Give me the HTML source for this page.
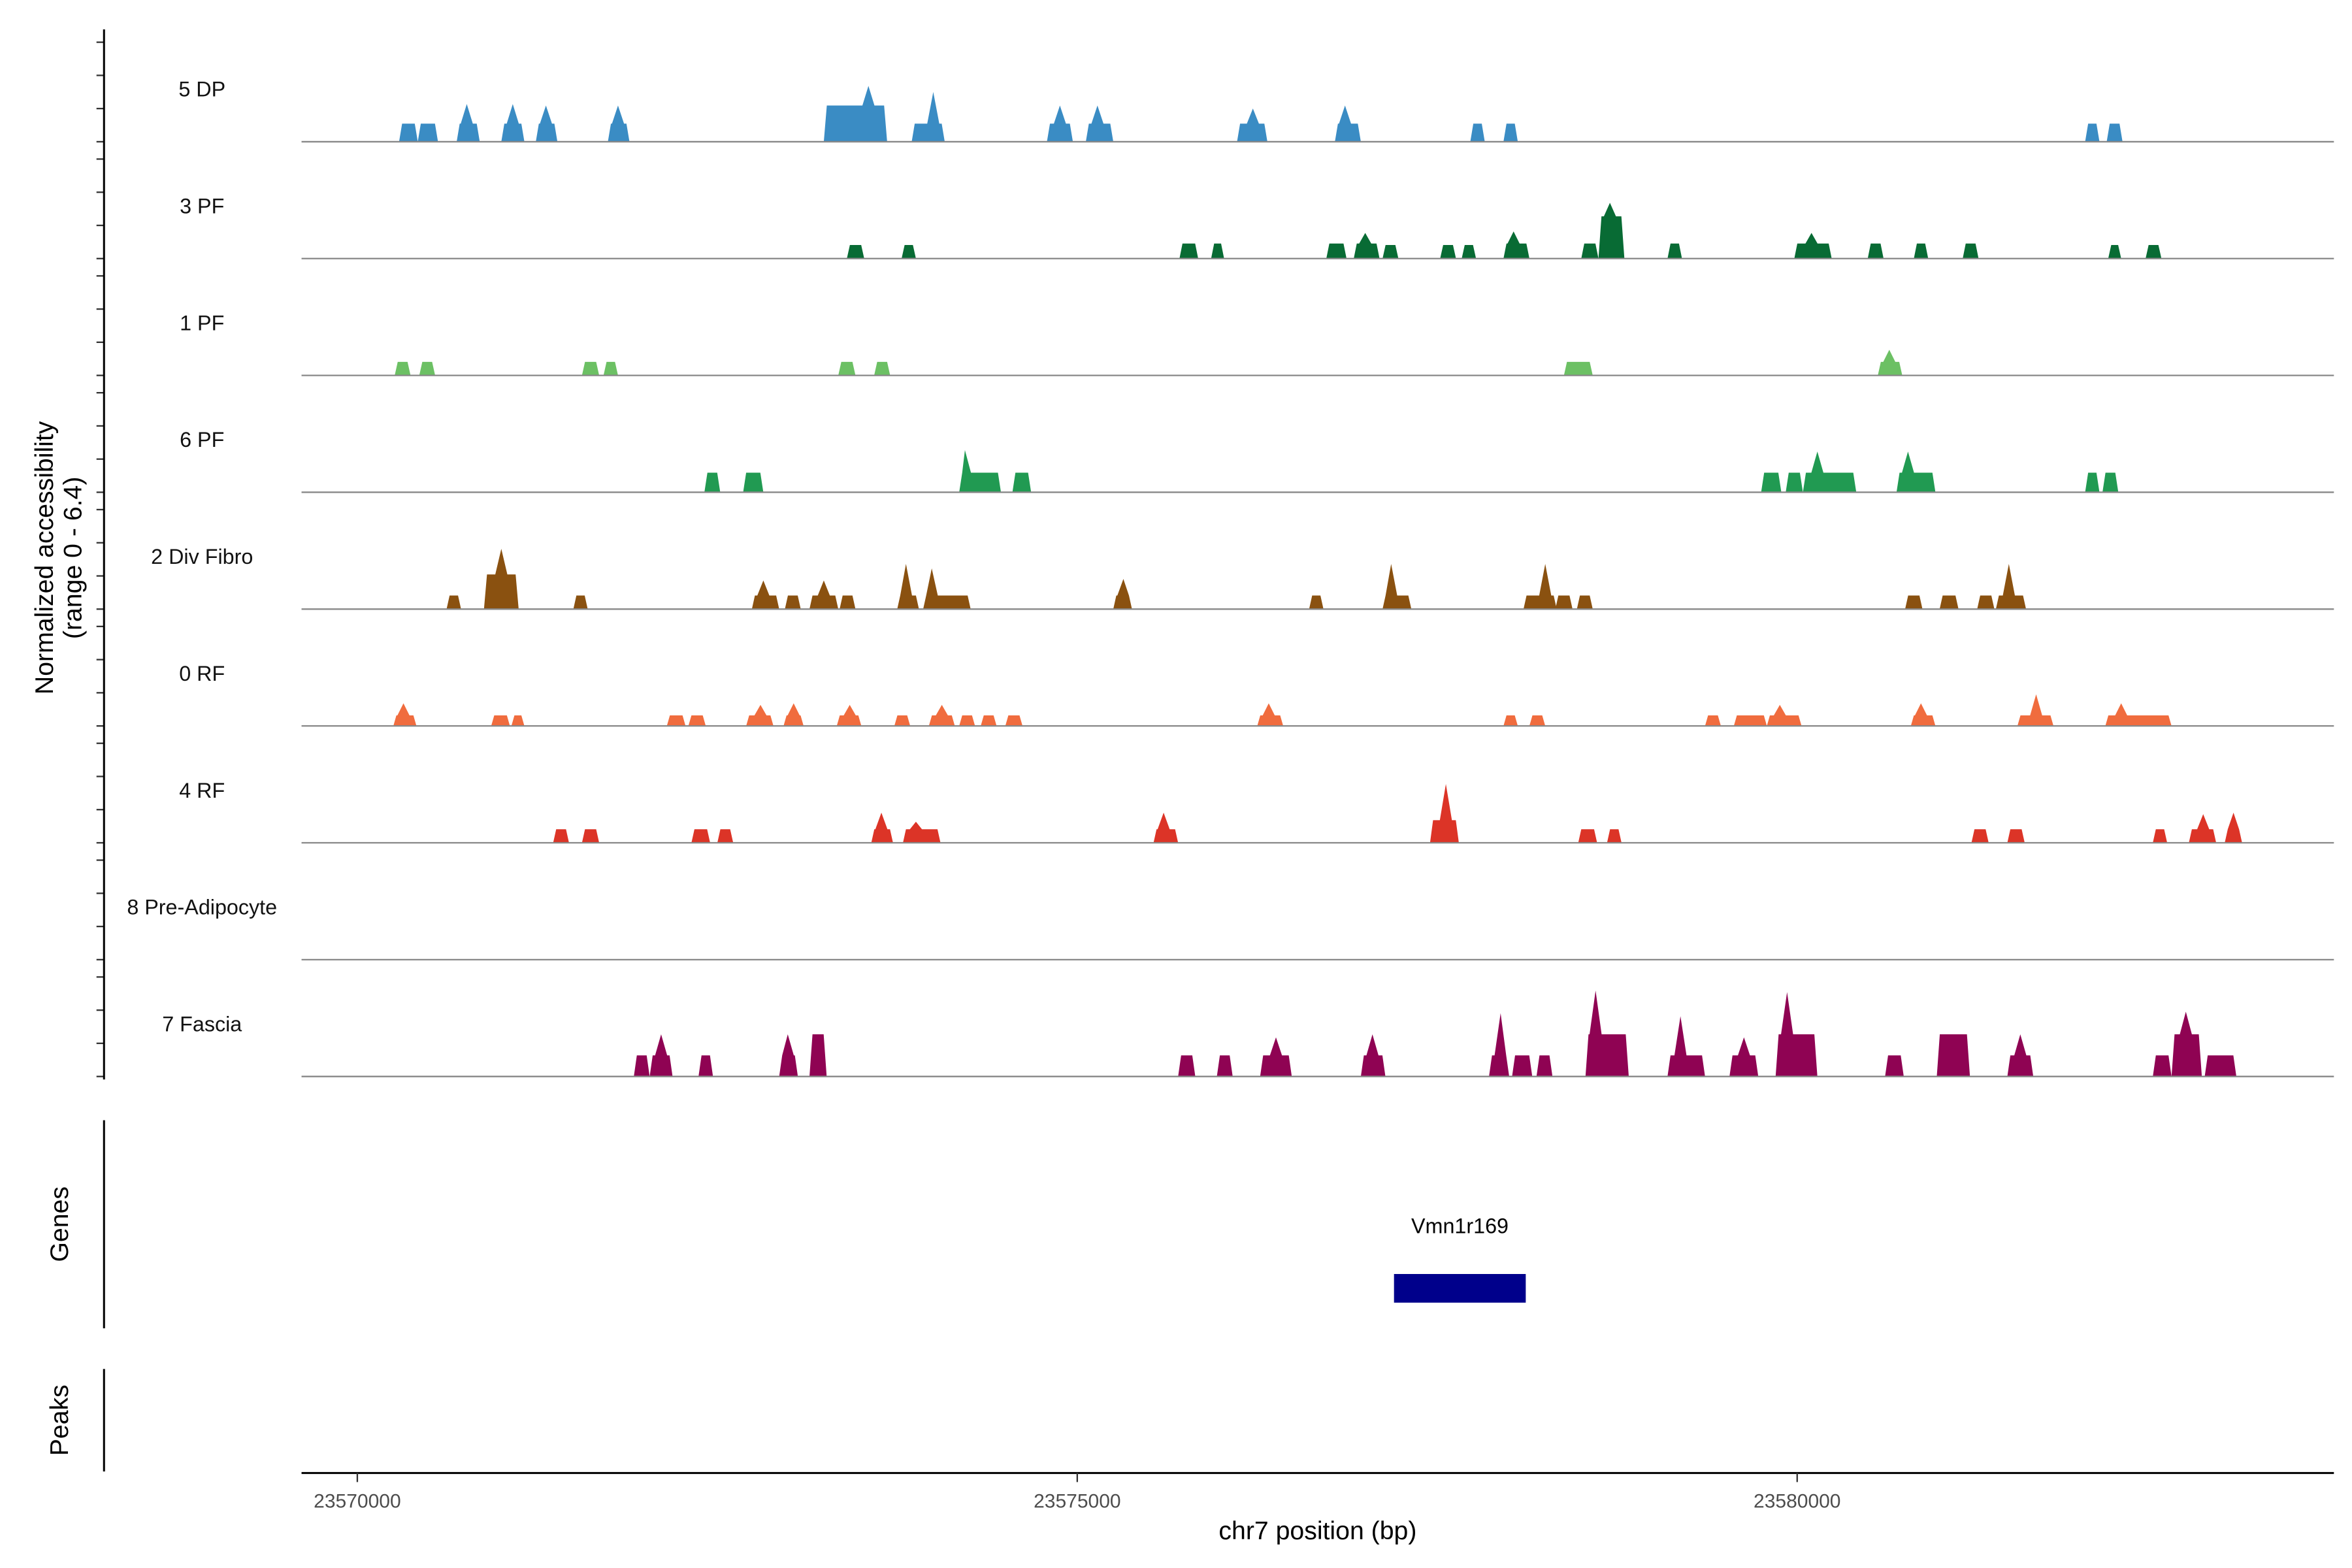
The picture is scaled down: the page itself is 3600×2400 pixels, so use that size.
<!DOCTYPE html>
<html><head><meta charset="utf-8"><style>
html,body{margin:0;padding:0;background:#fff;}
svg{display:block;font-family:"Liberation Sans",Arial,sans-serif;}
</style></head><body>
<svg id="chart" width="3600" height="2400" viewBox="0 0 1560 1040" xmlns="http://www.w3.org/2000/svg">
<rect width="1560" height="1040" fill="#fff"/>
<g id="tracks"></g>
<g id="axes"></g>
</svg>
<script>
// Track metadata
const trackNames = ["5 DP","3 PF","1 PF","6 PF","2 Div Fibro","0 RF","4 RF","8 Pre-Adipocyte","7 Fascia"];
const trackColors = ["#3a8cc4","#086b34","#6cc064","#219a52","#8a5110","#f06c3e","#dc3427","#888888","#8f0353"];
// Peaks: [startKb, endKb, baseHeight, spikeKb or null, spikeHeight] (kb offset from 23570000)
const peaksDP = [[0.29,0.42,1.2,null,0],[0.42,0.56,1.2,null,0],[0.69,0.85,1.2,0.76,2.5],[1.0,1.16,1.2,1.08,2.5],[1.24,1.39,1.2,1.31,2.4],[1.74,1.89,1.2,1.81,2.4],[3.24,3.68,2.4,3.55,3.7],[3.85,4.08,1.2,4.0,3.3],[4.79,4.97,1.2,4.88,2.4],[5.06,5.25,1.2,5.14,2.4],[6.11,6.32,1.2,6.22,2.2],[6.79,6.97,1.2,6.86,2.4],[7.73,7.83,1.2,null,0],[7.96,8.06,1.2,null,0],[12.0,12.1,1.2,null,0],[12.15,12.26,1.2,null,0]];
const peaks3PF = [[3.40,3.52,0.9,null,0],[3.78,3.88,0.9,null,0],[5.71,5.84,1.0,null,0],[5.93,6.02,1.0,null,0],[6.73,6.87,1.0,null,0],[6.92,7.10,1.0,7.0,1.7],[7.12,7.23,0.9,null,0],[7.52,7.63,0.9,null,0],[7.67,7.77,0.9,null,0],[7.96,8.14,1.0,8.03,1.8],[8.50,8.62,1.0,null,0],[8.62,8.80,2.8,8.70,3.7],[9.10,9.20,1.0,null,0],[9.98,10.24,1.0,10.10,1.7],[10.49,10.60,1.0,null,0],[10.81,10.91,1.0,null,0],[11.15,11.26,1.0,null,0],[12.16,12.25,0.9,null,0],[12.42,12.53,0.9,null,0]];
const peaks1PF = [[0.26,0.37,0.9,null,0],[0.43,0.54,0.9,null,0],[1.56,1.68,0.9,null,0],[1.71,1.81,0.9,null,0],[3.34,3.46,0.9,null,0],[3.59,3.70,0.9,null,0],[8.38,8.58,0.9,null,0],[10.56,10.73,0.9,10.64,1.7]];
const peaks6PF = [[2.41,2.52,1.3,null,0],[2.68,2.82,1.3,null,0],[4.18,4.47,1.3,4.22,2.8],[4.55,4.68,1.3,null,0],[9.75,9.89,1.3,null,0],[9.92,10.04,1.3,null,0],[10.04,10.41,1.3,10.14,2.7],[10.69,10.96,1.3,10.77,2.7],[12.0,12.1,1.3,null,0],[12.12,12.23,1.3,null,0]];
const peaksDiv = [[0.62,0.72,0.9,null,0],[0.88,1.12,2.3,1.0,4.0],[1.50,1.60,0.9,null,0],[2.74,2.93,0.9,2.82,1.9],[2.97,3.08,0.9,null,0],[3.14,3.34,0.9,3.24,1.9],[3.35,3.46,0.9,null,0],[3.75,3.90,0.9,3.81,3.0],[3.93,4.26,0.9,3.99,2.7],[5.25,5.38,0.9,5.32,2.0],[6.61,6.71,0.9,null,0],[7.12,7.32,0.9,7.18,3.0],[8.10,8.33,0.9,8.25,3.0],[8.32,8.44,0.9,null,0],[8.47,8.58,0.9,null,0],[10.75,10.87,0.9,null,0],[10.99,11.12,0.9,null,0],[11.25,11.37,0.9,null,0],[11.38,11.59,0.9,11.47,3.0]];
const peaks0RF = [[0.25,0.41,0.7,0.32,1.5],[0.93,1.06,0.7,null,0],[1.07,1.16,0.7,null,0],[2.15,2.28,0.7,null,0],[2.30,2.42,0.7,null,0],[2.70,2.89,0.7,2.80,1.4],[2.96,3.10,0.7,3.03,1.5],[3.33,3.50,0.7,3.42,1.4],[3.73,3.84,0.7,null,0],[3.97,4.15,0.7,4.06,1.4],[4.18,4.29,0.7,null,0],[4.33,4.44,0.7,null,0],[4.50,4.62,0.7,null,0],[6.25,6.43,0.7,6.33,1.5],[7.96,8.06,0.7,null,0],[8.14,8.25,0.7,null,0],[9.36,9.47,0.7,null,0],[9.56,9.79,0.7,null,0],[9.79,10.03,0.7,9.88,1.4],[10.79,10.96,0.7,10.86,1.5],[11.53,11.78,0.7,11.66,2.1],[12.14,12.60,0.7,12.25,1.5]];
const peaks4RF = [[1.36,1.47,0.9,null,0],[1.56,1.68,0.9,null,0],[2.32,2.45,0.9,null,0],[2.50,2.61,0.9,null,0],[3.57,3.72,0.9,3.64,2.0],[3.79,4.05,0.9,3.88,1.4],[5.53,5.70,0.9,5.60,2.0],[7.45,7.65,1.5,7.56,3.9],[8.48,8.61,0.9,null,0],[8.68,8.78,0.9,null,0],[11.21,11.33,0.9,null,0],[11.46,11.58,0.9,null,0],[12.47,12.57,0.9,null,0],[12.72,12.91,0.9,12.82,1.9],[12.97,13.09,0.9,13.03,2.0]];
const peaksPre = [];
const peaksFascia = [[1.92,2.03,1.4,null,0],[2.03,2.19,1.4,2.11,2.8],[2.37,2.47,1.4,null,0],[2.93,3.06,1.4,2.99,2.8],[3.14,3.26,2.8,null,0],[5.70,5.82,1.4,null,0],[5.97,6.08,1.4,null,0],[6.27,6.49,1.4,6.38,2.6],[6.97,7.14,1.4,7.05,2.8],[7.86,8.00,1.4,7.94,4.2],[8.02,8.16,1.4,null,0],[8.19,8.30,1.4,null,0],[8.53,8.83,2.8,8.60,5.7],[9.10,9.36,1.4,9.19,4.0],[9.53,9.73,1.4,9.63,2.6],[9.85,10.14,2.8,9.93,5.6],[10.61,10.74,1.4,null,0],[10.97,11.20,2.8,null,0],[11.46,11.64,1.4,11.55,2.8],[12.47,12.60,1.4,null,0],[12.60,12.81,2.8,12.70,4.3],[12.83,13.05,1.4,null,0]];
const trackPeaks = [peaksDP,peaks3PF,peaks1PF,peaks6PF,peaksDiv,peaks0RF,peaks4RF,peaksPre,peaksFascia];
const xTicks = [23570000,23575000,23580000];
const geneName = "Vmn1r169";
const geneStart = 23577200, geneEnd = 23578115;

const NS = "http://www.w3.org/2000/svg";
const X0 = 237, PXKB = 95.5, ORIGIN = 23570000;
function xKb(kb){ return X0 + kb*PXKB; }
function xBp(bp){ return xKb((bp-ORIGIN)/1000); }
function hPx(h){ return h*10; }
function baseY(i){ return 94 + i*77.5; }
function mk(tag, attrs, parent){ const e=document.createElementNS(NS,tag); for(const k in attrs) e.setAttribute(k,attrs[k]); parent.appendChild(e); return e; }

const tracks = document.getElementById('tracks');
const axes = document.getElementById('axes');

trackNames.forEach((name,i)=>{
  const g = mk('g',{},tracks);
  
  
  const by = baseY(i);
  const lbl = mk('text',{x:134,y:by-30,'font-size':14,'text-anchor':'middle',fill:'#111'},g);
  lbl.textContent = name;
  
  
  trackPeaks[i].forEach(p=>{
    const s=xKb(p[0]), e=xKb(p[1]), h=hPx(p[2]);
    const sl = Math.min(2, (e-s)/4);
    let pts = [[s,by],[s+sl,by-h]];
    if(p[3]!==null){
      const c=xKb(p[3]), w=4, ph=hPx(p[4]);
      pts.push([Math.max(s+sl,c-w),by-h],[c,by-ph],[Math.min(e-sl,c+w),by-h]);
    }
    pts.push([e-sl,by-h],[e,by]);
    const poly = mk('polygon',{points:pts.map(q=>q[0].toFixed(1)+','+q[1].toFixed(1)).join(' '),fill:trackColors[i]},g);
    
    
  });
  const bl = mk('line',{x1:200,x2:1548,y1:by,y2:by,stroke:'#888','stroke-width':1},g);
  
  
  for(let k=0;k<4;k++){
    const t = mk('line',{x1:64,x2:69,y1:by-22*k,y2:by-22*k,stroke:'#333','stroke-width':1},axes);
    
    
  }
});

// left axes
const yl = mk('line',{x1:69,x2:69,y1:19.5,y2:716,stroke:'#000','stroke-width':1.3},axes);


const gl = mk('line',{x1:69,x2:69,y1:743,y2:881,stroke:'#000','stroke-width':1.3},axes);


const pl = mk('line',{x1:69,x2:69,y1:908,y2:976,stroke:'#000','stroke-width':1.3},axes);



const yt = mk('text',{transform:'translate(35,370) rotate(-90)','font-size':17,'text-anchor':'middle',fill:'#000'},axes);


const t1 = mk('tspan',{x:0,dy:0},yt); t1.textContent='Normalized accessibility';
const t2 = mk('tspan',{x:0,dy:19},yt); t2.textContent='(range 0 - 6.4)';

const gt = mk('text',{transform:'translate(45,812) rotate(-90)','font-size':17,'text-anchor':'middle',fill:'#000'},axes);
gt.textContent='Genes';


const ptt = mk('text',{transform:'translate(45,942) rotate(-90)','font-size':17,'text-anchor':'middle',fill:'#000'},axes);
ptt.textContent='Peaks';



// gene
const gb = mk('rect',{x:xBp(geneStart),y:845,width:xBp(geneEnd)-xBp(geneStart),height:19,fill:'#00008b'},axes);


const gtx = mk('text',{x:(xBp(geneStart)+xBp(geneEnd))/2,y:818,'font-size':14,'text-anchor':'middle',fill:'#000'},axes);
gtx.textContent = geneName;



// x axis
const xl = mk('line',{x1:200,x2:1548,y1:977,y2:977,stroke:'#000','stroke-width':1.3},axes);


xTicks.forEach(v=>{
  const x=xBp(v);
  const tk = mk('line',{x1:x,x2:x,y1:977,y2:983,stroke:'#333','stroke-width':1},axes);
  
  
  const tl = mk('text',{x:x,y:1000,'font-size':13,'text-anchor':'middle',fill:'#4d4d4d'},axes);
  tl.textContent = String(v);
  
  
});
const xt = mk('text',{x:874,y:1021,'font-size':17,'text-anchor':'middle',fill:'#000'},axes);
xt.textContent='chr7 position (bp)';


</script>
</body></html>
